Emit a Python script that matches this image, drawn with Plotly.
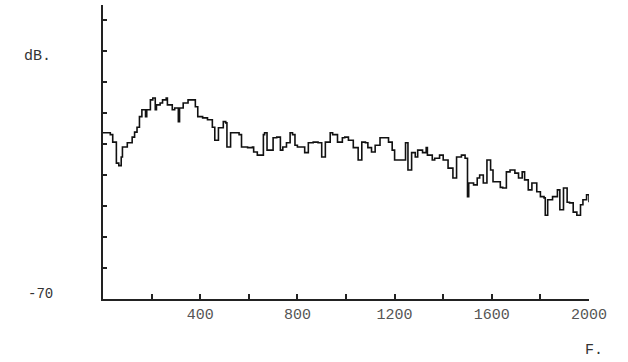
import plotly.graph_objects as go

# Frequency (Hz) and level (dB)
freq = [0, 30, 40, 55, 65, 75, 80, 100, 120, 130, 140, 150, 160, 175, 180, 195, 205, 215, 220, 235,
        245, 260, 265, 285, 295, 310, 315, 330, 350, 365, 380, 390, 410, 430, 450, 460, 475, 495, 505, 510,
        525, 545, 560, 570, 595, 615, 620, 635, 650, 660, 665, 675, 685, 700, 715, 730, 740, 755, 770, 780,
        790, 800, 820, 830, 845, 865, 885, 900, 915, 935, 945, 965, 985, 995, 1010, 1030, 1050, 1065, 1080, 1090,
        1105, 1120, 1140, 1160, 1175, 1190, 1200, 1220, 1245, 1255, 1270, 1285, 1295, 1315, 1330, 1335, 1355, 1365, 1385, 1400,
        1420, 1440, 1455, 1475, 1490, 1500, 1505, 1525, 1540, 1550, 1565, 1580, 1595, 1605, 1620, 1635, 1645, 1660, 1675, 1695,
        1710, 1725, 1735, 1750, 1765, 1785, 1800, 1815, 1820, 1830, 1850, 1870, 1880, 1895, 1910, 1920, 1935, 1950, 1965, 1975,
        1990, 2000]
level_db = [-43.2, -43.5, -44.7, -48.1, -48.5, -47.1, -45.5, -44.8, -43.9, -43.1, -42.3, -40.6, -39.5, -40.6, -39.5, -37.9, -37.6, -39.5, -38.7, -38.4,
            -37.9, -37.6, -38.7, -39.5, -39.2, -41.4, -39.2, -38.4, -37.9, -37.9, -39.0, -40.6, -40.8, -41.1, -42.3, -44.4, -42.4, -41.4, -41.6, -45.5,
            -43.2, -43.2, -43.5, -45.5, -45.6, -45.5, -46.3, -46.8, -46.8, -43.5, -43.2, -46.0, -46.0, -44.0, -43.9, -46.0, -45.5, -44.8, -43.2, -43.5,
            -45.2, -45.5, -45.5, -46.4, -44.8, -44.7, -44.8, -47.1, -44.7, -43.2, -43.5, -44.7, -44.0, -43.9, -44.4, -45.6, -47.6, -44.7, -44.8, -45.6,
            -46.3, -45.2, -44.0, -44.0, -44.7, -46.0, -47.6, -47.6, -44.8, -49.2, -46.4, -47.1, -46.0, -46.4, -45.6, -46.8, -47.6, -47.3, -46.8, -47.6,
            -48.9, -50.5, -47.1, -46.8, -47.3, -53.5, -51.3, -51.6, -50.5, -50.0, -51.3, -47.6, -49.2, -51.1, -51.1, -52.0, -52.1, -49.5, -49.2, -49.7,
            -50.5, -49.5, -50.8, -52.4, -51.3, -52.7, -53.5, -53.7, -56.5, -54.0, -53.5, -52.4, -55.6, -52.1, -54.4, -54.5, -56.0, -56.5, -54.8, -54.0,
            -53.2, -54.4]

x_ticks = [200, 400, 600, 800, 1000, 1200, 1400, 1600, 1800, 2000]
x_tick_text = ["", "400", "", "800", "", "1200", "", "1600", "", "2000"]
y_ticks = [-70, -65, -60, -55, -50, -45, -40, -35, -30, -25]

mono = "Liberation Mono, DejaVu Sans Mono, monospace"

fig = go.Figure()
fig.add_trace(go.Scatter(x=freq, y=level_db, mode="lines",
                         line=dict(color="#111111", width=1.6, shape="hv"),
                         hoverinfo="skip", showlegend=False))

fig.update_layout(
    width=628, height=362,
    margin=dict(l=103, r=39, t=5, b=63),
    paper_bgcolor="white", plot_bgcolor="white",
    font=dict(family=mono, color="#333333"),
    xaxis=dict(range=[0, 2000], tickvals=x_ticks, ticktext=x_tick_text,
               ticks="inside", ticklen=5, tickwidth=1.5, tickcolor="#222222",
               showline=True, linecolor="#222222", linewidth=2,
               showgrid=False, zeroline=False,
               tickfont=dict(family=mono, size=15, color="#555555")),
    yaxis=dict(range=[-70, -22.6], tickvals=y_ticks, showticklabels=False,
               ticks="inside", ticklen=4, tickwidth=1.5, tickcolor="#222222",
               showline=True, linecolor="#222222", linewidth=2,
               showgrid=False, zeroline=False),
    annotations=[
        dict(text="dB.", xref="paper", yref="paper", x=-0.134, y=0.825,
             xanchor="center", yanchor="middle", showarrow=False,
             font=dict(family=mono, size=15, color="#333333")),
        dict(text="-70", xref="paper", yref="y", x=-0.128, y=-69.2,
             xanchor="center", yanchor="middle", showarrow=False,
             font=dict(family=mono, size=14, color="#333333")),
        dict(text="F.", xref="paper", yref="paper", x=1.01, y=-0.175,
             xanchor="center", yanchor="middle", showarrow=False,
             font=dict(family=mono, size=15, color="#333333")),
    ],
)

fig.write_html("out.html", config={"displayModeBar": False},
               post_script="document.body.style.margin='0';")
